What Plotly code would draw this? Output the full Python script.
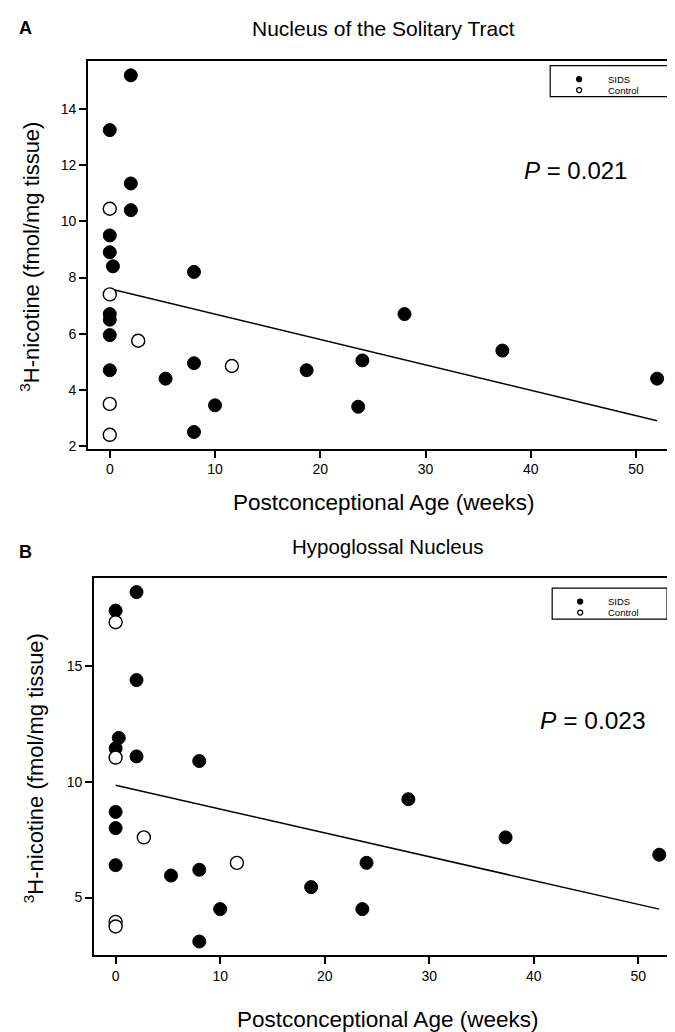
import plotly.graph_objects as go

W, H = 675, 1032

# ---------------- Data: Panel A (Nucleus of the Solitary Tract) ----------------
a_sids_x = [2, 0, 2, 2, 0, 0, 0.3, 8, 0, 0, 0, 0, 5.3, 8, 10, 8, 18.7, 23.6, 24, 28, 37.3, 52]
a_sids_y = [15.2, 13.25, 11.35, 10.4, 9.5, 8.9, 8.4, 8.2, 6.7, 6.5, 5.95, 4.7, 4.4, 4.95, 3.45, 2.5, 4.7, 3.4, 5.05, 6.7, 5.4, 4.4]
a_ctrl_x = [0, 0, 2.7, 11.6, 0, 0]
a_ctrl_y = [10.45, 7.4, 5.75, 4.85, 3.5, 2.4]
a_fit_x = [0, 52]
a_fit_y = [7.6, 2.9]
a_p_text = "<i>P</i> = 0.021"

# ---------------- Data: Panel B (Hypoglossal Nucleus) ----------------
b_sids_x = [2, 0, 2, 0.3, 0, 2, 8, 0, 0, 0, 5.3, 8, 10, 8, 18.7, 23.6, 24, 28, 37.3, 52]
b_sids_y = [18.2, 17.4, 14.4, 11.9, 11.45, 11.1, 10.9, 8.7, 8.0, 6.4, 5.95, 6.2, 4.5, 3.1, 5.45, 4.5, 6.5, 9.25, 7.6, 6.85]
b_ctrl_x = [0, 0, 2.7, 11.6, 0, 0]
b_ctrl_y = [16.9, 11.05, 7.6, 6.5, 3.95, 3.75]
b_fit_x = [0, 52]
b_fit_y = [9.85, 4.5]
b_p_text = "<i>P</i> = 0.023"

x_ticks = [0, 10, 20, 30, 40, 50]
a_y_ticks = [2, 4, 6, 8, 10, 12, 14]
b_y_ticks = [5, 10, 15]
legend_names = ["SIDS", "Control"]

FONT = "Liberation Sans, Arial, sans-serif"
MS = 13

def px(x):
    return x / W

def py(y):
    return 1 - y / H

fig = go.Figure()

def add_panel(xa, ya, sx, sy, cx, cy, fx, fy):
    fig.add_trace(go.Scatter(x=fx, y=fy, mode="lines", line=dict(color="black", width=1.5),
                             xaxis=xa, yaxis=ya, showlegend=False, hoverinfo="skip"))
    fig.add_trace(go.Scatter(x=sx, y=sy, mode="markers", name=legend_names[0],
                             marker=dict(size=MS, color="black", line=dict(color="black", width=1)),
                             xaxis=xa, yaxis=ya, showlegend=False))
    fig.add_trace(go.Scatter(x=cx, y=cy, mode="markers", name=legend_names[1],
                             marker=dict(size=MS, color="white", line=dict(color="black", width=1.4)),
                             xaxis=xa, yaxis=ya, showlegend=False))

add_panel("x", "y", a_sids_x, a_sids_y, a_ctrl_x, a_ctrl_y, a_fit_x, a_fit_y)
add_panel("x2", "y2", b_sids_x, b_sids_y, b_ctrl_x, b_ctrl_y, b_fit_x, b_fit_y)

axis_common = dict(showline=True, linecolor="black", linewidth=1.5, mirror=True,
                   ticks="outside", ticklen=7, tickwidth=1.5, tickcolor="black",
                   showgrid=False, zeroline=False,
                   tickfont=dict(family=FONT, size=14, color="black"))

# Panel A plot box: x 80..672 px, y 53..443 px
a_dom_x = [px(80), px(672)]
a_dom_y = [py(443), py(53)]
# Panel B plot box: x 86..674 px, y 573..952 px
b_dom_x = [px(86), px(674)]
b_dom_y = [py(952), py(573)]

fig.update_layout(
    width=W, height=H,
    margin=dict(l=0, r=0, t=0, b=0),
    paper_bgcolor="white", plot_bgcolor="white",
    font=dict(family=FONT, color="black"),
    showlegend=False,
    xaxis=dict(domain=a_dom_x, anchor="y", range=[-2.08, 54.08], tickvals=x_ticks, **axis_common),
    yaxis=dict(domain=a_dom_y, anchor="x", range=[1.9, 15.72], tickvals=a_y_ticks, **axis_common),
    xaxis2=dict(domain=b_dom_x, anchor="y2", range=[-2.08, 54.08], tickvals=x_ticks, **axis_common),
    yaxis2=dict(domain=b_dom_y, anchor="x2", range=[2.5, 18.8], tickvals=b_y_ticks, **axis_common),
)

ann = []
shapes = []
def text(x, y, s, size, xanchor="center", **kw):
    ann.append(dict(x=px(x), y=py(y), xref="paper", yref="paper", text=s, showarrow=False,
                    font=dict(family=FONT, size=size, color="black"), xanchor=xanchor,
                    yanchor="middle", **kw))

def legend_box(x0, x1, y0, y1, mx, tx, rows):
    shapes.append(dict(type="rect", xref="paper", yref="paper",
                       x0=px(x0), x1=px(x1), y0=py(y1), y1=py(y0),
                       line=dict(color="black", width=1.2), fillcolor="white"))
    for (ry, name, filled) in rows:
        r = 2.5
        shapes.append(dict(type="circle", xref="paper", yref="paper",
                           x0=px(mx - r), x1=px(mx + r), y0=py(ry + r), y1=py(ry - r),
                           line=dict(color="black", width=1.3),
                           fillcolor="black" if filled else "white"))
        text(tx, ry, name, 9.5, xanchor="left")

# legends
legend_box(543, 667, 58, 89, 572, 599, [(71.5, legend_names[0], True), (82.5, legend_names[1], False)])
legend_box(545, 660, 583, 614, 573, 599, [(596.5, legend_names[0], True), (607.5, legend_names[1], False)])

# panel labels and titles
text(18, 20, "<b>A</b>", 18)
text(376, 21, "Nucleus of the Solitary Tract", 21)
text(18, 547, "<b>B</b>", 18)
text(380, 541, "Hypoglossal Nucleus", 20.5)
# axis titles
text(376, 497, "Postconceptional Age (weeks)", 22.5)
text(380, 1016, "Postconceptional Age (weeks)", 22.5)
text(22, 250, "<sup>3</sup>H-nicotine (fmol/mg tissue)", 22, textangle=-90)
text(26, 764, "<sup>3</sup>H-nicotine (fmol/mg tissue)", 22, textangle=-90)
# P values
text(568, 163, a_p_text, 24)
text(586, 716, b_p_text, 24.5)

fig.update_layout(annotations=ann, shapes=shapes)

fig.write_html("out.html")
